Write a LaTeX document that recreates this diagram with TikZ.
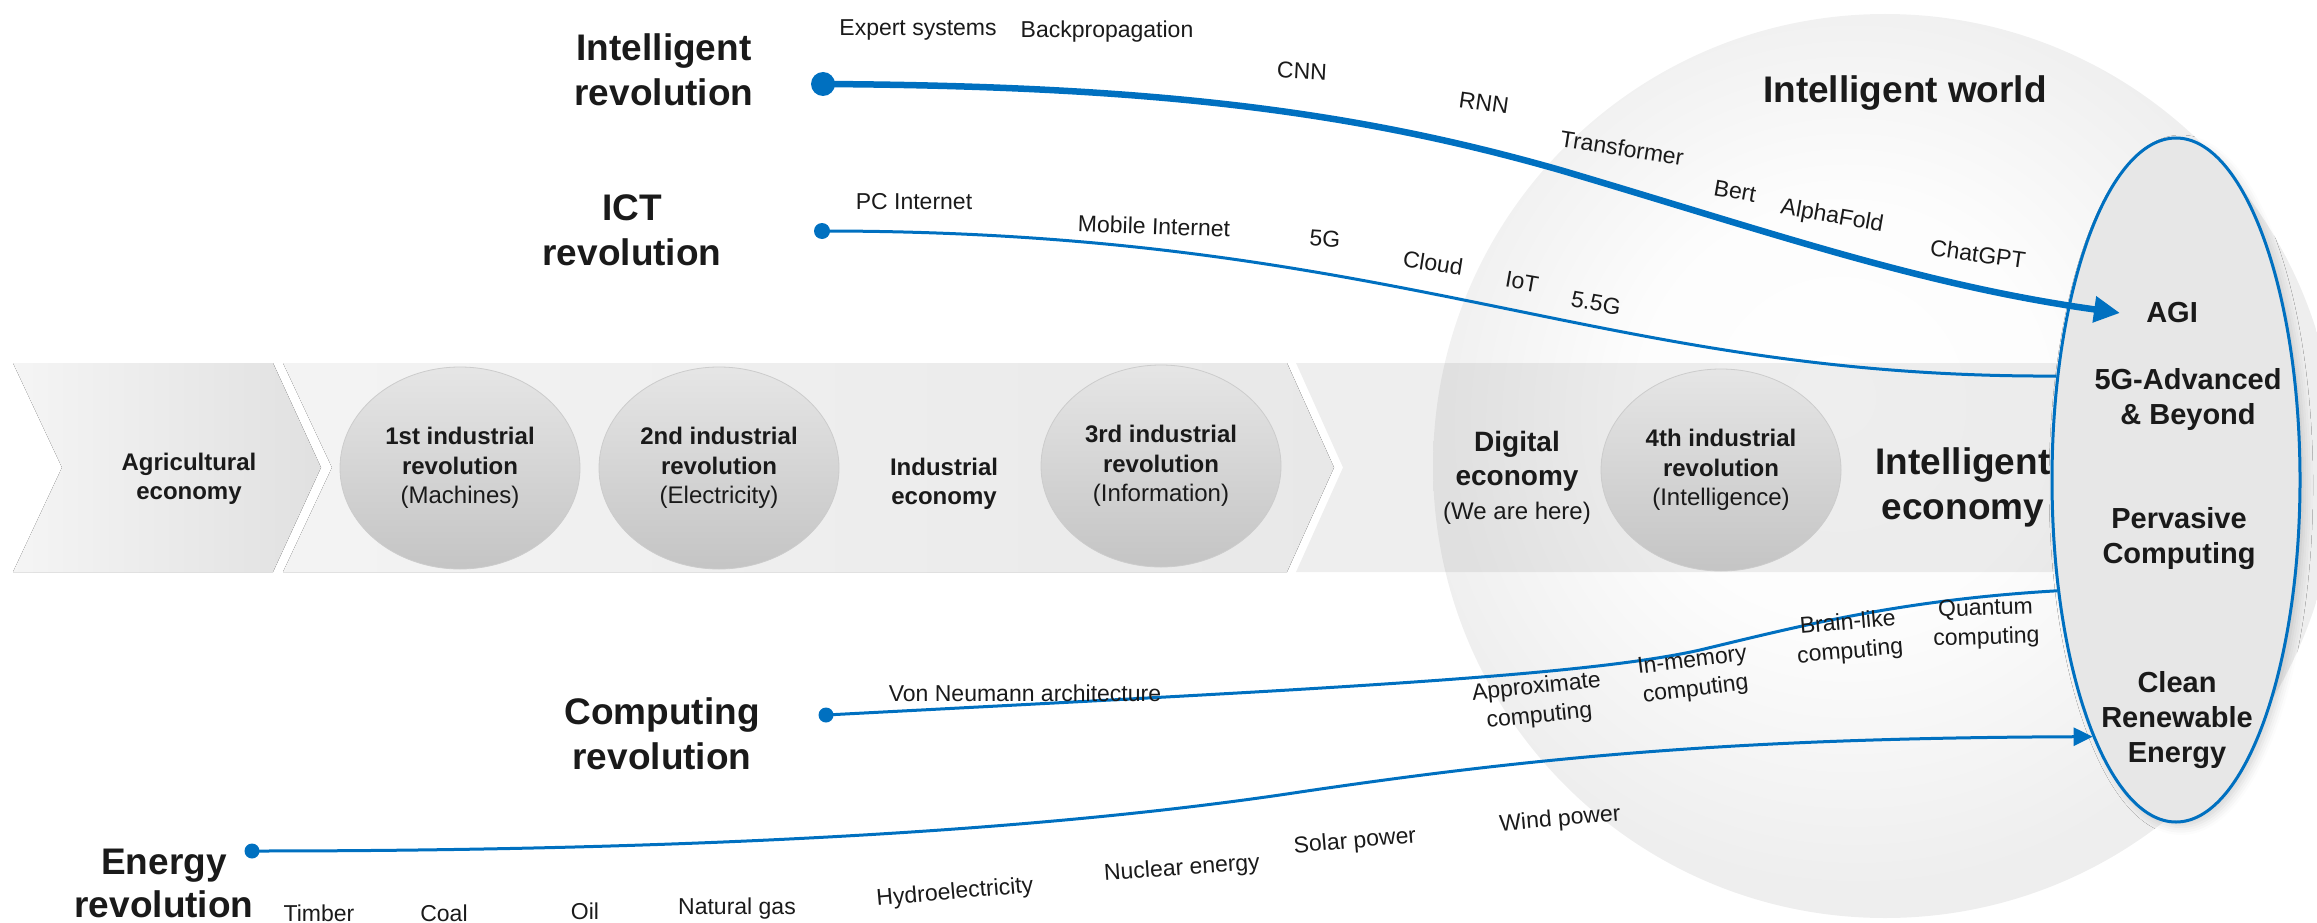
\documentclass[tikz,border=0pt]{standalone}
\usepackage{fontspec}
\setmainfont{Liberation Sans}
\usetikzlibrary{arrows.meta,shapes.geometric,shadows.blur}
\definecolor{myblue}{RGB}{0,112,192}
\definecolor{ink}{RGB}{26,26,26}
\pgfdeclareradialshading{sphere}{\pgfpoint{-3bp}{4bp}}{color(0bp)=(white); color(12bp)=(white!99!black); color(25bp)=(white!93.5!black); color(50bp)=(white!91!black)}
\tikzset{
  bigtxt/.style={font=\bfseries\fontsize{37}{45}\selectfont, text=ink, align=center, inner sep=0pt},
  goaltxt/.style={font=\bfseries\fontsize{29}{35}\selectfont, text=ink, align=center, inner sep=0pt},
  bandtxt/.style={font=\bfseries\fontsize{24}{29.5}\selectfont, text=ink, align=center, inner sep=0pt},
  lbl/.style={font=\fontsize{23}{29}\selectfont, text=ink, align=center, inner sep=0pt},
  revell/.style={ellipse, top color=white!90!black, bottom color=white!77!black, draw=white!80!black, line width=0.8pt, minimum width=240pt, minimum height=202pt, inner sep=0pt},
  bluedot/.style={circle, fill=myblue, inner sep=0pt},
  flow/.style={draw=myblue, line width=3pt},
}
\begin{document}
\begin{tikzpicture}[x=1pt,y=-1pt]
\useasboundingbox (0,0) rectangle (2317,923);
\clip (0,0) rectangle (2317,923);

% big sphere
\shade[shading=sphere] (1885,466) circle [radius=452];

% band
\fill[left color=white!96!black, right color=white!88!black] (13,363) -- (273,363) -- (321,467.5) -- (273,572) -- (13,572) -- (62,467.5) -- cycle;
\fill[left color=white!95.5!black, right color=white!91!black] (283,363) -- (1287,363) -- (1334,467.5) -- (1287,572) -- (283,572) -- (332,467.5) -- cycle;
\fill[black, fill opacity=0.065] (1296,363) -- (2176,363) -- (2176,572) -- (1296,572) -- (1343,467.5) -- cycle;

% band contents
\node[bandtxt] (agri) at (189,479) {Agricultural\\economy};
\node[revell, bandtxt] (rev1) at (460,468) {1st industrial\\revolution\\\mdseries(Machines)};
\node[revell, bandtxt] (rev2) at (719,468) {2nd industrial\\revolution\\\mdseries(Electricity)};
\node[bandtxt] (indeco) at (944,484) {Industrial\\economy};
\node[revell, bandtxt] (rev3) at (1161,466) {3rd industrial\\revolution\\\mdseries(Information)};
\node[bandtxt, font=\bfseries\fontsize{28}{34}\selectfont] (digeco) at (1517,478) {Digital\\economy\\\mdseries\fontsize{24}{34}\selectfont(We are here)};
\node[revell, bandtxt] (rev4) at (1721,470) {4th industrial\\revolution\\\mdseries(Intelligence)};
\node[bigtxt] (inteco) at (1963,487) {Intelligent\\economy};

% goal ellipse
\node[ellipse, draw=myblue, line width=3pt, fill=white!90.5!black, minimum width=248pt, minimum height=684pt, inner sep=0pt,
      blur shadow={shadow xshift=5pt, shadow yshift=-5pt, shadow blur radius=8pt, shadow opacity=16}] (goal) at (2176,480) {};
\node[goaltxt, inner xsep=26pt] (agi) at (2172,313) {AGI};
\node[goaltxt] (g5) at (2188,399) {5G-Advanced\\\& Beyond};
\node[goaltxt] (perv) at (2179,539) {Pervasive\\Computing};
\node[goaltxt] (clean) at (2177,720) {Clean\\Renewable\\Energy};

\node[bigtxt] (world) at (1905,93) {Intelligent world};

% revolution titles
\node[bigtxt] (intrev) at (664,70) {Intelligent\\revolution};
\node[bigtxt] (ictrev) at (632,230) {ICT\\revolution};
\node[bigtxt] (comprev) at (662,734) {Computing\\revolution};
\node[bigtxt, font=\bfseries\fontsize{37}{43}\selectfont] (enrev) at (164,883) {Energy\\revolution};

% dots
\node[bluedot, minimum size=24pt] (intdot) at (823,84) {};
\node[bluedot, minimum size=16pt] (ictdot) at (822,231) {};
\node[bluedot, minimum size=15pt] (compdot) at (826,715) {};
\node[bluedot, minimum size=15pt] (endot) at (252,851) {};

% flows
\draw[flow, line width=6.5pt, -{Triangle[length=26pt,width=25pt]}] (intdot.center) .. controls (1150,86) and (1350,110) .. (1560,170) .. controls (1770,232) and (1920,285) .. (agi.west);
\draw[flow] (ictdot.center) .. controls (1400,231) and (1600,378) .. (goal.139.7);
\draw[flow] (compdot.center) .. controls (1300,690) and (1580,677) .. (1700,650) .. controls (1800,626) and (1900,600) .. (goal.223.2);
\draw[flow, -{Triangle[length=19pt,width=18pt]}] (endot.center) .. controls (700,851) and (1050,830) .. (1300,792) .. controls (1550,755) and (1750,738) .. (goal.252);

% intelligent labels
\node[lbl] (l1) at (918,30) {Expert systems};
\node[lbl] (l2) at (1107,32) {Backpropagation};
\node[lbl, rotate=-3] (l3) at (1302,71) {CNN};
\node[lbl, rotate=-8] (l4) at (1484,103) {RNN};
\node[lbl, rotate=-9] (l5) at (1622,148) {Transformer};
\node[lbl, rotate=-10] (l6) at (1735,191) {Bert};
\node[lbl, rotate=-10] (l7) at (1832,217) {AlphaFold};
\node[lbl, rotate=-8] (l8) at (1978,254) {ChatGPT};

% ICT labels
\node[lbl] (c1) at (914,202) {PC Internet};
\node[lbl, rotate=-2] (c2) at (1154,226) {Mobile Internet};
\node[lbl, rotate=-4] (c3) at (1325,239) {5G};
\node[lbl, rotate=-9] (c4) at (1433,263) {Cloud};
\node[lbl, rotate=-10] (c5) at (1522,282) {IoT};
\node[lbl, rotate=-10] (c6) at (1596,303) {5.5G};

% computing labels
\node[lbl] (p1) at (1025,693) {Von Neumann architecture};
\node[lbl, rotate=6] (p2) at (1538,702) {Approximate\\computing};
\node[lbl, rotate=7] (p3) at (1694,676) {In-memory\\computing};
\node[lbl, rotate=5] (p4) at (1849,638) {Brain-like\\computing};
\node[lbl, rotate=2] (p5) at (1986,624) {Quantum\\computing};

% energy labels
\node[lbl] (e1) at (319,913) {Timber};
\node[lbl] (e2) at (444,913) {Coal};
\node[lbl] (e3) at (585,911) {Oil};
\node[lbl] (e4) at (737,909) {Natural gas};
\node[lbl, rotate=5] (e5) at (955,893) {Hydroelectricity};
\node[lbl, rotate=4] (e6) at (1182,869) {Nuclear energy};
\node[lbl, rotate=5] (e7) at (1355,842) {Solar power};
\node[lbl, rotate=5] (e8) at (1560,820) {Wind power};
\end{tikzpicture}
\end{document}
